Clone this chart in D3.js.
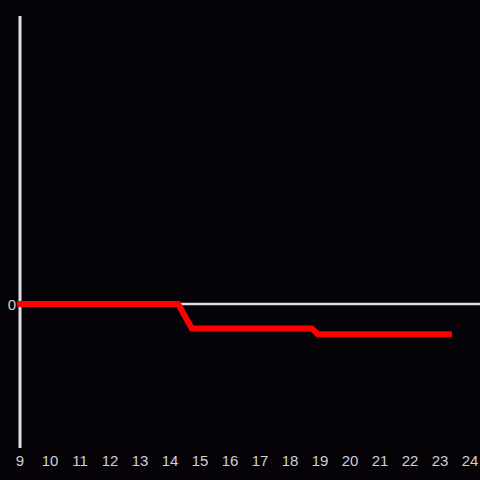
<!DOCTYPE html>
<html>
<head>
<meta charset="utf-8">
<script src="https://cdn.jsdelivr.net/npm/d3@7"></script>
<style>
	html, body { margin: 0; padding: 0; background: #050308; }
	svg { display: block; }
</style>
</head>
<body>
<div id="chart"></div>
<script>
// data
let xTicks = [9, 10, 11, 12, 13, 14, 15, 16, 17, 18, 19, 20, 21, 22, 23, 24];
let yTicks = [0];
let times = [9, 14.27, 14.73, 18.73, 18.93, 23.3];
let values = [0, 0, -0.17, -0.17, -0.21, -0.21];

let w = 480, h = 480;
let svg = d3.select('#chart').append('svg').attr('width', w).attr('height', h);
svg.append('rect').attr('width', w).attr('height', h).attr('fill', '#050308');

let x = d3.scaleLinear().domain([9, 24]).range([20, 470]);
let y = d3.scaleLinear().domain([-1, 2]).range([448, 16]);

// zero line
svg.append('line')
	.attr('x1', x(9)).attr('x2', w)
	.attr('y1', y(0)).attr('y2', y(0))
	.attr('stroke', '#e0e0e0').attr('stroke-width', 2.5);

// y axis line
svg.append('line')
	.attr('x1', x(9)).attr('x2', x(9))
	.attr('y1', y(2)).attr('y2', y(-1))
	.attr('stroke', '#e0e0e0').attr('stroke-width', 3);

// x tick labels
svg.append('g').selectAll('text').data(xTicks).enter().append('text')
	.attr('x', function (d) { return x(d); })
	.attr('y', 466)
	.attr('text-anchor', 'middle')
	.attr('font-family', 'Liberation Sans, Arial, sans-serif')
	.attr('font-size', 15)
	.attr('fill', '#d0d0d0')
	.text(function (d) { return d; });

// y tick labels
svg.append('g').selectAll('text').data(yTicks).enter().append('text')
	.attr('x', 16)
	.attr('y', function (d) { return y(d) + 5.5; })
	.attr('text-anchor', 'end')
	.attr('font-family', 'Liberation Sans, Arial, sans-serif')
	.attr('font-size', 15)
	.attr('fill', '#d0d0d0')
	.text(function (d) { return d; });

// series
let line = d3.line()
	.x(function (d, i) { return x(times[i]); })
	.y(function (d) { return y(d); });

svg.append('path')
	.attr('d', line(values))
	.attr('fill', 'none')
	.attr('stroke', '#ff0000')
	.attr('stroke-width', 6)
	.attr('stroke-linecap', 'square')
	.attr('stroke-linejoin', 'miter');
</script>
</body>
</html>
